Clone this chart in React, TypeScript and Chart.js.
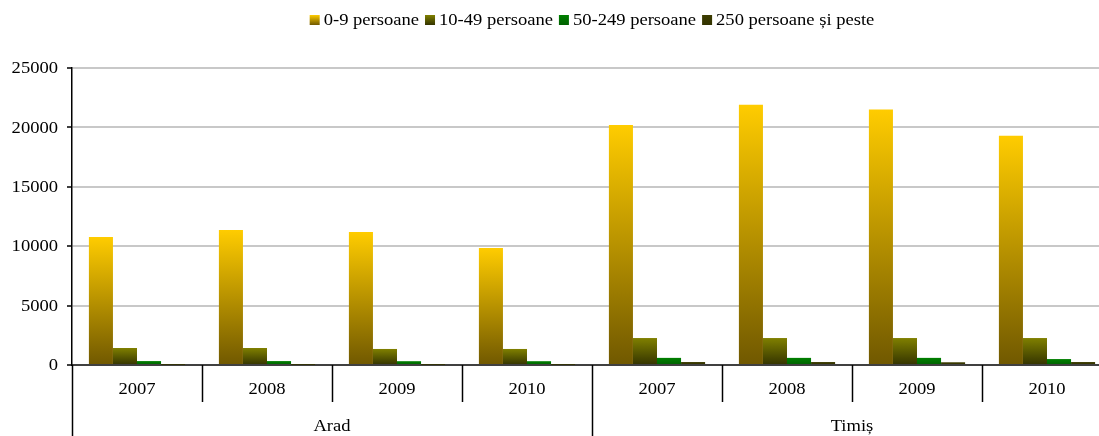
import { useEffect, useRef } from 'react';
import { Chart, registerables } from 'chart.js';

Chart.register(...registerables);

const groups = ['Arad', 'Timiș'];
const years = ['2007', '2008', '2009', '2010'];
const seriesNames = ['0-9 persoane', '10-49 persoane', '50-249 persoane', '250 persoane și peste'];
const micro = [10770, 11360, 11200, 9850, 20200, 21900, 21500, 19300];
const small = [1430, 1430, 1350, 1350, 2270, 2270, 2270, 2270];
const medium = [330, 330, 320, 320, 600, 600, 600, 500];
const large = [15, 15, 15, 15, 250, 250, 230, 250];
const yTicks = [0, 5000, 10000, 15000, 20000, 25000];

const seriesValues = [micro, small, medium, large];
const topColors = ['#FFCC00', '#808000', '#008000', '#3d3d00'];
const bottomColors = ['#705800', '#333300', '#006000', '#333300'];

const FONT = '16px "Liberation Serif", "Times New Roman", serif';
const SX = 1.16;

function stretchedText(ctx: CanvasRenderingContext2D, text: string, x: number, y: number, align: 'left' | 'center' | 'right') {
  ctx.save();
  ctx.font = FONT;
  const w = ctx.measureText(text).width * SX;
  let left = x;
  if (align === 'center') left = x - w / 2;
  if (align === 'right') left = x - w;
  ctx.translate(left, y);
  ctx.scale(SX, 1);
  ctx.textAlign = 'left';
  ctx.textBaseline = 'middle';
  ctx.fillStyle = '#000';
  ctx.fillText(text, 0, 0);
  ctx.restore();
  return w;
}

function barGradient(chart: any, dsIndex: number, value: number) {
  const y = chart.scales?.y;
  if (!y || !chart.chartArea) return topColors[dsIndex];
  const top = y.getPixelForValue(value);
  const bottom = y.getPixelForValue(0);
  if (Math.abs(bottom - top) < 1) return bottomColors[dsIndex];
  const g = chart.ctx.createLinearGradient(0, top, 0, bottom);
  g.addColorStop(0, topColors[dsIndex]);
  g.addColorStop(1, bottomColors[dsIndex]);
  return g;
}

const customPlugin = {
  id: 'customDecor',
  afterDraw(chart: any) {
    const ctx: CanvasRenderingContext2D = chart.ctx;
    const area = chart.chartArea;
    const yScale = chart.scales.y;
    const n = groups.length * years.length;
    const w = (area.right - area.left) / n;

    // y tick labels
    yTicks.forEach((t) => {
      stretchedText(ctx, String(t), area.left - 14, yScale.getPixelForValue(t) + 1, 'right');
    });

    // x dividers and labels
    ctx.save();
    ctx.strokeStyle = '#000';
    ctx.lineWidth = 1.5;
    for (let i = 0; i <= n; i++) {
      const x = Math.round(area.left + i * w) + 0.5;
      const isGroup = i % years.length === 0;
      ctx.beginPath();
      ctx.moveTo(x, area.bottom);
      ctx.lineTo(x, isGroup ? chart.height : area.bottom + 37);
      ctx.stroke();
    }
    ctx.restore();
    for (let i = 0; i < n; i++) {
      stretchedText(ctx, years[i % years.length], area.left + (i + 0.5) * w, area.bottom + 25, 'center');
    }
    groups.forEach((g, gi) => {
      const cx = area.left + (gi * years.length + years.length / 2) * w;
      stretchedText(ctx, g, cx, area.bottom + 62, 'center');
    });

    // legend
    ctx.save();
    ctx.font = FONT;
    const box = 10;
    const gapBoxText = 4;
    const gapItems = 6;
    const widths = seriesNames.map((s) => ctx.measureText(s).width * SX);
    const total = widths.reduce((a, b) => a + b, 0) + seriesNames.length * (box + gapBoxText) + (seriesNames.length - 1) * gapItems;
    let x = (area.left + area.right) / 2 - total / 2;
    const ly = 20;
    ctx.restore();
    seriesNames.forEach((s, i) => {
      const g = ctx.createLinearGradient(0, ly - box / 2, 0, ly + box / 2);
      g.addColorStop(0, topColors[i]);
      g.addColorStop(1, bottomColors[i]);
      ctx.fillStyle = g;
      ctx.fillRect(x, ly - box / 2, box, box);
      x += box + gapBoxText;
      stretchedText(ctx, s, x, ly + 1, 'left');
      x += widths[i] + gapItems;
    });
  },
};

export default function App() {
  const ref = useRef<HTMLCanvasElement>(null);
  useEffect(() => {
    if (!ref.current) return;
    const labels = groups.flatMap(() => years);
    const chart = new Chart(ref.current, {
      type: 'bar',
      data: {
        labels,
        datasets: seriesValues.map((vals, i) => ({
          label: seriesNames[i],
          data: vals,
          backgroundColor: (c: any) => barGradient(c.chart, i, vals[c.dataIndex] ?? 0),
          borderWidth: 0,
          categoryPercentage: 0.74,
          barPercentage: 1,
        })),
      },
      options: {
        responsive: false,
        animation: false,
        events: [],
        layout: { padding: { top: 68, right: 3, left: 0, bottom: 0 } },
        plugins: { legend: { display: false }, tooltip: { enabled: false }, title: { display: false } },
        scales: {
          x: {
            type: 'category',
            ticks: { display: false },
            grid: { display: false },
            border: { display: true, color: '#404040', width: 2 },
            afterFit: (s: any) => { s.height = 71; },
          },
          y: {
            min: 0,
            max: 25000,
            ticks: { display: false, stepSize: 5000 },
            grid: { color: '#c8c8c8', lineWidth: 2, tickLength: 5, tickColor: '#000', tickWidth: 1.5 },
            border: { display: true, color: '#000', width: 1.5 },
            afterFit: (s: any) => { s.width = 72; },
          },
        },
      },
      plugins: [customPlugin],
    });
    return () => chart.destroy();
  }, []);
  return (
    <div style={{ position: 'fixed', left: 0, top: 0, width: 1099, height: 436, overflow: 'hidden', background: '#fff' }}>
      <canvas ref={ref} width={1115} height={436} style={{ display: 'block' }} />
    </div>
  );
}
